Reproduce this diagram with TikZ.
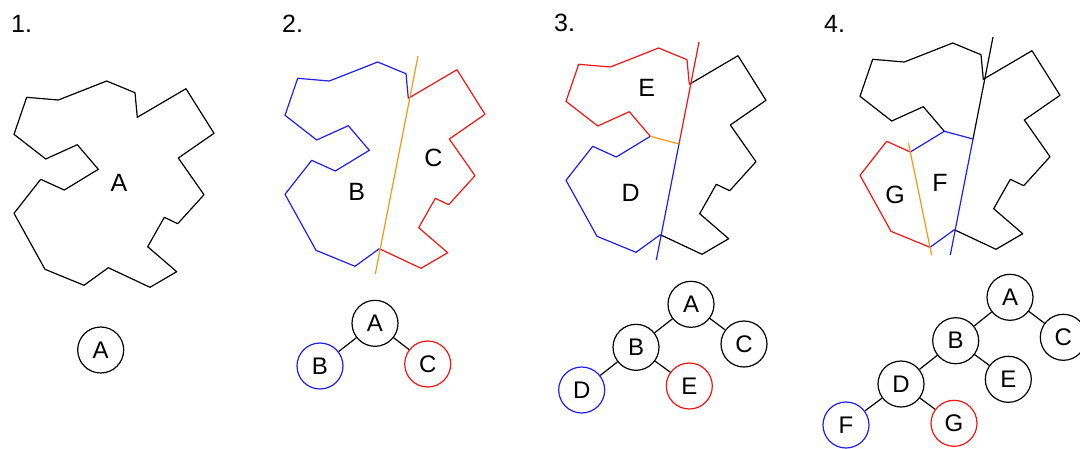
\documentclass[tikz,border=0pt]{standalone}
\usepackage{fontspec}
\setmainfont{Liberation Sans}
\usetikzlibrary{calc}
\definecolor{cblue}{RGB}{30,30,245}
\definecolor{cred}{RGB}{245,20,20}
\definecolor{corange}{RGB}{250,150,20}
\newcommand{\defpts}{%
  \coordinate (P1) at (26.7,97.3);
  \coordinate (P2) at (58.3,100);
  \coordinate (P3) at (106.7,81);
  \coordinate (P4) at (135,92.7);
  \coordinate (P5) at (137.3,117.3);
  \coordinate (P6) at (186,88.7);
  \coordinate (P7) at (214,133.3);
  \coordinate (P8) at (178.3,158);
  \coordinate (P9) at (204,194.7);
  \coordinate (P10) at (177.7,223.7);
  \coordinate (P11) at (164.3,217.3);
  \coordinate (P12) at (147.7,246.7);
  \coordinate (P13) at (176.7,271.7);
  \coordinate (P14) at (150,287.3);
  \coordinate (P15) at (108.3,267.7);
  \coordinate (P16) at (84,285.3);
  \coordinate (P17) at (45,269.3);
  \coordinate (P18) at (14,213.3);
  \coordinate (P19) at (40.7,179.3);
  \coordinate (P20) at (64.3,190);
  \coordinate (P21) at (98.3,169.3);
  \coordinate (P22) at (77.3,144.7);
  \coordinate (P23) at (45.7,159);
  \coordinate (P24) at (14,134.3);
  \coordinate (T1) at (147,75);
  \coordinate (B1) at (104.3,293);
  \coordinate (Q) at (127,177);
  \coordinate (T3) at (62.4,180.7);
  \coordinate (B3) at (85.6,293);
}
\begin{document}
\begin{tikzpicture}[x=1pt,y=-1pt,
  edge/.style={line width=1.2pt,line join=round},
  lbl/.style={font=\fontsize{25}{25}\selectfont,inner sep=0pt},
  num/.style={font=\fontsize{25}{25}\selectfont,inner sep=0pt,anchor=west},
  tnode/.style={circle,draw,line width=1.2pt,minimum size=46pt,inner sep=0pt,font=\fontsize{24}{24}\selectfont},
  tedge/.style={line width=1.2pt}]
\useasboundingbox (0,0) rectangle (1080,448);
\clip (0,0) rectangle (1080,448);
% panel numbers
\node[num] (n1) at (11,24) {1.};
\node[num] (n2) at (282,24) {2.};
\node[num] (n3) at (554,23) {3.};
\node[num] (n4) at (824,24) {4.};
% panel 1
\begin{scope}
\defpts
\draw[edge] (P1)--(P2)--(P3)--(P4)--(P5)--(P6)--(P7)--(P8)--(P9)--(P10)--(P11)--(P12)--(P13)--(P14)--(P15)--(P16)--(P17)--(P18)--(P19)--(P20)--(P21)--(P22)--(P23)--(P24)--cycle;
\node[lbl] (lA) at (119,183) {A};
\end{scope}
% panel 2
\begin{scope}[shift={(271,-19)}]
\defpts
\draw[edge,cblue] (P15)--(P16)--(P17)--(P18)--(P19)--(P20)--(P21)--(P22)--(P23)--(P24)--(P1)--(P2)--(P3)--(P4)--(P5);
\draw[edge,cred] (P5)--(P6)--(P7)--(P8)--(P9)--(P10)--(P11)--(P12)--(P13)--(P14)--(P15);
\draw[edge,corange] (T1)--(B1);
\end{scope}
\node[lbl] (lB) at (356.7,191.7) {B};
\node[lbl] (lC) at (433.3,158.3) {C};
% panel 3
\begin{scope}[shift={(552,-33)}]
\defpts
\draw[edge] (P5)--(P6)--(P7)--(P8)--(P9)--(P10)--(P11)--(P12)--(P13)--(P14)--(P15);
\draw[edge,cred] (P21)--(P22)--(P23)--(P24)--(P1)--(P2)--(P3)--(P4)--(P5);
\draw[edge,cred] (T1)--(Q);
\draw[edge,cblue] (P21)--(P20)--(P19)--(P18)--(P17)--(P16)--(P15);
\draw[edge,cblue] (Q)--(B1);
\draw[edge,corange] (P21)--(Q);
\end{scope}
\node[lbl] (lE) at (646.7,88.3) {E};
\node[lbl] (lD) at (630.7,193.3) {D};
% panel 4
\begin{scope}[shift={(846,-38)}]
\defpts
\draw[edge] (P21)--(P22)--(P23)--(P24)--(P1)--(P2)--(P3)--(P4)--(P5)--(P6)--(P7)--(P8)--(P9)--(P10)--(P11)--(P12)--(P13)--(P14)--(P15);
\draw[edge] (T1)--(Q);
\draw[edge,cblue] (P20)--(P21)--(Q)--(B1);
\draw[edge,cblue] (P16)--(P15);
\draw[edge,cred] (P20)--(P19)--(P18)--(P17)--(P16);
\draw[edge,corange] (T3)--(B3);
\end{scope}
\node[lbl] (lF) at (940,182.7) {F};
\node[lbl] (lG) at (895,195) {G};
% tree 1
\node[tnode] (t1A) at (100.7,350) {A};
% tree 2
\node[tnode] (t2A) at (375,323.3) {A};
\node[tnode,cblue,text=black] (t2B) at (320,366) {B};
\node[tnode,cred,text=black] (t2C) at (427.7,364) {C};
\draw[tedge] (t2A)--(t2B);
\draw[tedge] (t2A)--(t2C);
% tree 3
\node[tnode] (t3A) at (691,304.3) {A};
\node[tnode] (t3C) at (744,344) {C};
\node[tnode] (t3B) at (636,347.3) {B};
\node[tnode,cblue,text=black] (t3D) at (581.7,390) {D};
\node[tnode,cred,text=black] (t3E) at (689.3,386) {E};
\draw[tedge] (t3A)--(t3B);
\draw[tedge] (t3A)--(t3C);
\draw[tedge] (t3B)--(t3D);
\draw[tedge] (t3B)--(t3E);
% tree 4
\node[tnode] (t4A) at (1010,297.3) {A};
\node[tnode] (t4C) at (1063.3,337.3) {C};
\node[tnode] (t4B) at (955.7,340.7) {B};
\node[tnode] (t4E) at (1008.3,379.3) {E};
\node[tnode] (t4D) at (901,384) {D};
\node[tnode,cblue,text=black] (t4F) at (846,425) {F};
\node[tnode,cred,text=black] (t4G) at (954,423.3) {G};
\draw[tedge] (t4A)--(t4B);
\draw[tedge] (t4A)--(t4C);
\draw[tedge] (t4B)--(t4D);
\draw[tedge] (t4B)--(t4E);
\draw[tedge] (t4D)--(t4F);
\draw[tedge] (t4D)--(t4G);
\end{tikzpicture}
\end{document}
